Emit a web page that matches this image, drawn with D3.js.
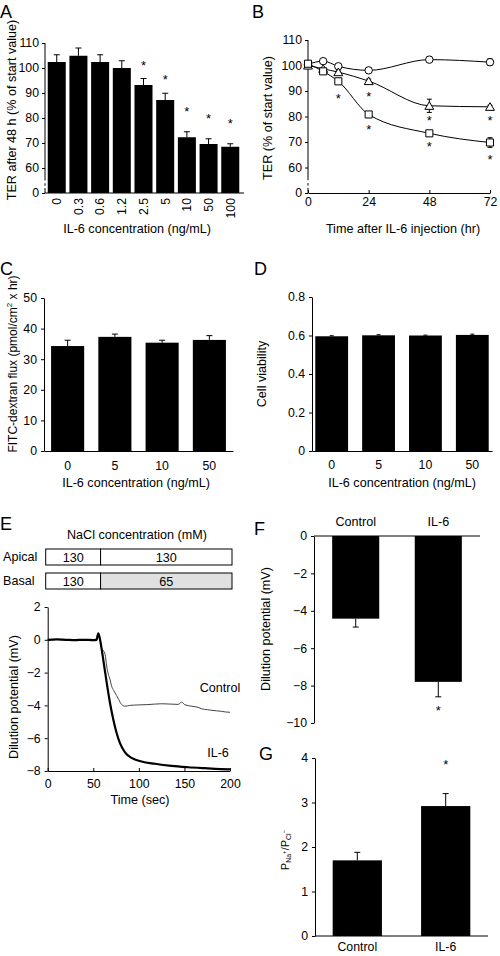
<!DOCTYPE html>
<html><head><meta charset="utf-8">
<script src="https://cdn.jsdelivr.net/npm/d3@7"></script>
<style>
body{margin:0;background:#fff}
svg{display:block}
text{font-family:"Liberation Sans",Arial,sans-serif;fill:#000}
</style>
</head><body>
<svg id="c" width="500" height="956"></svg>
<script>
// ---------- DATA ----------
// Panel A
const concA = ["0","0.3","0.6","1.2","2.5","5","10","50","100"];
const terA = [102.4, 104.9, 102.4, 100.0, 93.2, 87.2, 72.3, 69.6, 68.5];
const terAErr = [2.9, 3.1, 2.9, 2.9, 2.6, 2.7, 2.2, 2.1, 1.2];
const starAConc = ["2.5","5","10","50","100"];
const starAVal = [102.0, 96.3, 83.5, 81.0, 78.7];
const ticksA = [50, 60, 70, 80, 90, 100, 110];

// Panel B
const timeB = [0, 6, 12, 24, 48, 72];
const circB = [100.5, 101.7, 99.7, 98.1, 102.3, 101.3];
const circErr = [0, 0.5, 0.5, 0.6, 0.9, 1.3];
const triB = [100.0, 98.7, 97.4, 93.9, 84.2, 83.8];
const triErr = [0, 0.5, 0.5, 0.8, 2.6, 0.6];
const sqB = [100.7, 97.7, 93.8, 80.8, 73.4, 69.8];
const sqErr = [0, 0.5, 0.5, 0.8, 0.9, 1.9];
const starBTime = [12, 24, 24, 48, 48, 72, 72];
const starBVal = [88.2, 88.8, 76.0, 79.5, 69.2, 79.5, 64.2];
const ticksBx = [0, 24, 48, 72];

// Panel C
const concC = ["0","5","10","50"];
const fluxC = [34.3, 37.3, 35.4, 36.3];
const fluxErr = [1.9, 0.9, 0.8, 1.4];
const ticksC = [0, 10, 20, 30, 40, 50];

// Panel D
const viabD = [0.596, 0.601, 0.600, 0.603];
const viabErr = [0.003, 0.003, 0.002, 0.004];
const ticksD = [0, 0.2, 0.4, 0.6, 0.8];

// Panel E
const apicalConc = ["130", "130"];
const basalConc = ["130", "65"];
const switchTime = 58;
const ctrlT = [0,10,20,30,40,50,53,55.5,57.5,59,61,63,64.7,66.5,68.3,70,72.5,75.6,78,81,84.8,90,100,110,125,135,143,147,150.5,158,165,169,175,180,185,190.8,195,200];
const ctrlV = [0,0.02,-0.02,0,0.02,0,0.05,0.39,0.05,-0.5,-0.65,-0.9,-1.6,-2.1,-2.4,-2.8,-3.1,-3.4,-3.65,-3.94,-4.05,-4.0,-3.97,-3.95,-3.9,-3.92,-3.94,-3.8,-3.96,-4.05,-4.12,-4.21,-4.26,-4.3,-4.33,-4.36,-4.4,-4.42];
const il6T = [0,10,20,30,40,50,53.7,55.5,57.3,59.2,62,64.7,68.3,72,75.6,79.3,84.8,92,103,117.6,135.9,154,172.5,190,200];
const il6V = [0,0.02,0,-0.02,0,-0.02,0,0.39,0.05,-0.57,-1.6,-2.6,-3.84,-4.87,-5.68,-6.3,-6.87,-7.2,-7.42,-7.56,-7.69,-7.77,-7.83,-7.88,-7.9];
const ticksEx = [0, 50, 100, 150, 200];
const ticksEy = [-8, -6, -4, -2, 0, 2];

// Panel F
const groupsF = ["Control", "IL-6"];
const dilF = [-4.42, -7.8];
const dilErr = [0.45, 0.8];
const starFVal = -9.2;
const ticksF = [-10, -8, -6, -4, -2, 0];

// Panel G
const groupsG = ["Control", "IL-6"];
const permG = [1.70, 2.92];
const permErr = [0.18, 0.28];
const starGVal = 3.91;
const ticksG = [0, 1, 2, 3, 4];

// ---------- DRAW ----------
const svg = d3.select("#c");
const FONT = '"Liberation Sans",Arial,sans-serif';
const TICK_FS = 12.3;
const TITLE_FS = 12.6;

function styleAxis(g) {
  g.attr("font-size", TICK_FS).attr("font-family", FONT);
  g.selectAll("path,line").attr("stroke", "#000");
}
function txt(x, y, s, opts = {}) {
  return svg.append("text").attr("x", x).attr("y", y).attr("font-size", opts.size || TITLE_FS)
    .attr("text-anchor", opts.anchor || "middle").text(s);
}
function vlabel(cx, cy, s) {
  return svg.append("text").attr("transform", `translate(${cx},${cy}) rotate(-90)`)
    .attr("text-anchor", "middle").attr("dy", "0.35em").attr("font-size", TITLE_FS).text(s);
}
function star(x, y) {
  svg.append("text").attr("x", x).attr("y", y).attr("dy", 7).attr("text-anchor", "middle")
    .attr("font-size", 13).text("*");
}
function errBar(x, y1, y2, cap = 6) {
  svg.append("line").attr("x1", x).attr("x2", x).attr("y1", y1).attr("y2", y2).attr("stroke", "#000").attr("stroke-width", 1);
  svg.append("line").attr("x1", x - cap / 2).attr("x2", x + cap / 2).attr("y1", y2).attr("y2", y2).attr("stroke", "#000").attr("stroke-width", 1);
}
function brokenYAxis(x, scale, top, bottom) {
  const segs = [[top, 55], [53.9, 52.9], [52.0, bottom]];
  segs.forEach(s => svg.append("line").attr("x1", x).attr("x2", x)
    .attr("y1", scale(s[0])).attr("y2", scale(s[1])).attr("stroke", "#000"));
}

// Panel letters
txt(0, 18, "A", {size: 18, anchor: "start"});
txt(252, 18, "B", {size: 18, anchor: "start"});
txt(0, 275, "C", {size: 18, anchor: "start"});
txt(254, 275, "D", {size: 18, anchor: "start"});
txt(0, 530, "E", {size: 18, anchor: "start"});
txt(254, 535, "F", {size: 18, anchor: "start"});
txt(259, 760, "G", {size: 18, anchor: "start"});

// ----- Panel A -----
const xA = d3.scaleBand().domain(concA).range([46, 241]).paddingInner(0.17).paddingOuter(0.08);
const yA = d3.scaleLinear().domain([50, 110]).range([193, 43]);
svg.append("g").selectAll("rect").data(concA).join("rect")
  .attr("x", d => xA(d)).attr("width", xA.bandwidth())
  .attr("y", (d, i) => yA(terA[i])).attr("height", (d, i) => yA(50) - yA(terA[i])).attr("fill", "#000");
concA.forEach((c, i) => errBar(xA(c) + xA.bandwidth() / 2, yA(terA[i]), yA(terA[i] + terAErr[i])));
starAConc.forEach((c, i) => star(xA(c) + xA.bandwidth() / 2, yA(starAVal[i])));
{
  const g = svg.append("g").attr("transform", `translate(45,0)`)
    .call(d3.axisLeft(yA).tickValues(ticksA).tickSize(3).tickPadding(3).tickSizeOuter(0).tickFormat(d => d === 50 ? "0" : d));
  styleAxis(g); g.select(".domain").remove();
  brokenYAxis(45, yA, 110, 50);
  svg.append("line").attr("x1", 45).attr("x2", 244).attr("y1", yA(50)).attr("y2", yA(50)).attr("stroke", "#000");
  concA.forEach(c => svg.append("text")
    .attr("transform", `translate(${xA(c) + xA.bandwidth() / 2},198) rotate(-90)`)
    .attr("text-anchor", "end").attr("dy", "0.35em").attr("font-size", TICK_FS).text(c));
}
vlabel(12, 110, "TER after 48 h (% of start value)");
txt(137, 233, "IL-6 concentration (ng/mL)");

// ----- Panel B -----
const xB = d3.scaleLinear().domain([0, 72]).range([308, 490]);
const yB = d3.scaleLinear().domain([50, 110]).range([193, 40]);
{
  const g = svg.append("g").attr("transform", `translate(308,0)`)
    .call(d3.axisLeft(yB).tickValues(ticksA).tickSize(3).tickPadding(3).tickSizeOuter(0).tickFormat(d => d === 50 ? "0" : d));
  styleAxis(g); g.select(".domain").remove();
  brokenYAxis(308, yB, 110, 50);
  const gx = svg.append("g").attr("transform", `translate(0,${yB(50)})`)
    .call(d3.axisBottom(xB).tickValues(ticksBx).tickSizeInner(-3).tickSizeOuter(0).tickPadding(4));
  styleAxis(gx);
}
const lineB = d3.line().x((d, i) => xB(timeB[i])).y(d => yB(d)).curve(d3.curveMonotoneX);
const seriesB = [
  {v: circB, e: circErr, sym: d3.symbolCircle, size: 44},
  {v: triB, e: triErr, sym: d3.symbolTriangle, size: 34},
  {v: sqB, e: sqErr, sym: d3.symbolSquare, size: 50}
];
seriesB.forEach(s => {
  svg.append("path").attr("d", lineB(s.v)).attr("fill", "none").attr("stroke", "#000").attr("stroke-width", 1);
});
seriesB.forEach(s => {
  s.v.forEach((v, i) => {
    if (s.e[i] > 0) {
      errBar(xB(timeB[i]), yB(v), yB(v + s.e[i]), 5);
      errBar(xB(timeB[i]), yB(v), yB(v - s.e[i]), 5);
    }
  });
  svg.append("g").selectAll("path").data(s.v).join("path")
    .attr("transform", (d, i) => `translate(${xB(timeB[i])},${yB(d) + (s.sym === d3.symbolTriangle ? 1 : 0)})`)
    .attr("d", d3.symbol().type(s.sym).size(s.size))
    .attr("fill", "#fff").attr("stroke", "#000").attr("stroke-width", 1);
});
starBTime.forEach((t, i) => star(xB(t), yB(starBVal[i])));
vlabel(268, 118, "TER (% of start value)");
txt(403, 233, "Time after IL-6 injection (hr)");

// ----- Panel C -----
const xC = d3.scaleBand().domain(concC).range([44, 233]).paddingInner(0.3).paddingOuter(0.15);
const yC = d3.scaleLinear().domain([0, 50]).range([451, 298]);
svg.append("g").selectAll("rect").data(concC).join("rect")
  .attr("x", d => xC(d)).attr("width", xC.bandwidth())
  .attr("y", (d, i) => yC(fluxC[i])).attr("height", (d, i) => yC(0) - yC(fluxC[i])).attr("fill", "#000");
concC.forEach((c, i) => errBar(xC(c) + xC.bandwidth() / 2, yC(fluxC[i]), yC(fluxC[i] + fluxErr[i])));
{
  const g = svg.append("g").attr("transform", `translate(44,0)`)
    .call(d3.axisLeft(yC).tickValues(ticksC).tickSize(3).tickPadding(4).tickSizeOuter(0).tickFormat(d3.format("d")));
  styleAxis(g);
  const gx = svg.append("g").attr("transform", `translate(0,${yC(0)})`)
    .call(d3.axisBottom(xC).tickSize(0).tickPadding(10));
  styleAxis(gx);
}
{
  const t = svg.append("text").attr("transform", `translate(13,364) rotate(-90)`)
    .attr("text-anchor", "middle").attr("dy", "0.35em").attr("font-size", 12);
  t.append("tspan").text("FITC-dextran flux (pmol/cm");
  t.append("tspan").attr("dy", -5).attr("font-size", 8).text("2");
  t.append("tspan").attr("dy", 5).text(" x hr)");
}
txt(136, 487, "IL-6 concentration (ng/mL)");

// ----- Panel D -----
const xD = d3.scaleBand().domain(concC).range([312, 492]).paddingInner(0.3).paddingOuter(0.07);
const yD = d3.scaleLinear().domain([0, 0.8]).range([451, 297]);
svg.append("g").selectAll("rect").data(concC).join("rect")
  .attr("x", d => xD(d)).attr("width", xD.bandwidth())
  .attr("y", (d, i) => yD(viabD[i])).attr("height", (d, i) => yD(0) - yD(viabD[i])).attr("fill", "#000");
concC.forEach((c, i) => errBar(xD(c) + xD.bandwidth() / 2, yD(viabD[i]), yD(viabD[i] + viabErr[i]), 4));
{
  const g = svg.append("g").attr("transform", `translate(312,0)`)
    .call(d3.axisLeft(yD).tickValues(ticksD).tickSize(3).tickPadding(4).tickSizeOuter(0)
      .tickFormat(d => d === 0 ? "0" : d3.format(".1f")(d)));
  styleAxis(g);
  const gx = svg.append("g").attr("transform", `translate(0,${yD(0)})`)
    .call(d3.axisBottom(xD).tickSize(0).tickPadding(9));
  styleAxis(gx);
}
vlabel(262, 374, "Cell viability");
txt(402, 487, "IL-6 concentration (ng/mL)");

// ----- Panel E -----
const xE = d3.scaleLinear().domain([0, 200]).range([47.7, 230]);
const yE = d3.scaleLinear().domain([-8, 2]).range([771, 607]);
txt(137, 539, "NaCl concentration (mM)");
{
  const rows = [{name: "Apical", conc: apicalConc, y0: 549, fill2: "#fff"},
                {name: "Basal", conc: basalConc, y0: 573, fill2: "#e0e0e0"}];
  const bx0 = xE(0) - 2, bxm = xE(switchTime), bx1 = xE(200) + 2, bh = 16;
  rows.forEach(r => {
    svg.append("rect").attr("x", bx0).attr("y", r.y0).attr("width", bxm - bx0).attr("height", bh)
      .attr("fill", "#fff").attr("stroke", "#000");
    svg.append("rect").attr("x", bxm).attr("y", r.y0).attr("width", bx1 - bxm).attr("height", bh)
      .attr("fill", r.fill2).attr("stroke", "#000");
    txt((bx0 + bxm) / 2, r.y0 + bh / 2 + 4.5, r.conc[0]);
    txt((bxm + bx1) / 2, r.y0 + bh / 2 + 4.5, r.conc[1]);
    txt(3, r.y0 + bh / 2 + 4, r.name, {anchor: "start"});
  });
}
{
  const g = svg.append("g").attr("transform", `translate(${xE(0)},0)`)
    .call(d3.axisLeft(yE).tickValues(ticksEy).tickSize(3).tickPadding(4).tickSizeOuter(0).tickFormat(d3.format("d")));
  styleAxis(g);
  const gx = svg.append("g").attr("transform", `translate(0,${yE(-8)})`)
    .call(d3.axisBottom(xE).tickValues(ticksEx).tickSizeInner(-3).tickSizeOuter(0).tickPadding(8));
  styleAxis(gx);
}
const lineE = d3.line().x(d => xE(d[0])).y(d => yE(d[1])).curve(d3.curveMonotoneX);
svg.append("path").attr("d", lineE(ctrlT.map((t, i) => [t, ctrlV[i]])))
  .attr("fill", "none").attr("stroke", "#444").attr("stroke-width", 1);
svg.append("path").attr("d", lineE(il6T.map((t, i) => [t, il6V[i]])))
  .attr("fill", "none").attr("stroke", "#000").attr("stroke-width", 2.2);
txt(220, 692, "Control");
txt(218, 757, "IL-6");
vlabel(14, 697, "Dilution potential (mV)");
txt(140, 804, "Time (sec)");

// ----- Panel F -----
const xF = d3.scaleBand().domain(groupsF).range([314, 480]).paddingInner(0.43).paddingOuter(0.22);
const yF = d3.scaleLinear().domain([-10, 0]).range([723, 536]);
svg.append("g").selectAll("rect").data(groupsF).join("rect")
  .attr("x", d => xF(d)).attr("width", xF.bandwidth())
  .attr("y", yF(0)).attr("height", (d, i) => yF(dilF[i]) - yF(0)).attr("fill", "#000");
groupsF.forEach((c, i) => errBar(xF(c) + xF.bandwidth() / 2, yF(dilF[i]), yF(dilF[i] - dilErr[i])));
star(xF("IL-6") + xF.bandwidth() / 2, yF(starFVal));
{
  const g = svg.append("g").attr("transform", `translate(314,0)`)
    .call(d3.axisLeft(yF).tickValues(ticksF).tickSize(3).tickPadding(4).tickSizeOuter(0).tickFormat(d3.format("d")));
  styleAxis(g);
  svg.append("line").attr("x1", 314).attr("x2", 480).attr("y1", yF(0)).attr("y2", yF(0)).attr("stroke", "#000");
  groupsF.forEach(c => txt(xF(c) + xF.bandwidth() / 2, 526, c));
}
vlabel(266, 629, "Dilution potential (mV)");

// ----- Panel G -----
const xG = d3.scaleBand().domain(groupsG).range([315, 488]).paddingInner(0.443).paddingOuter(0.2);
const yG = d3.scaleLinear().domain([0, 4]).range([936, 758]);
svg.append("g").selectAll("rect").data(groupsG).join("rect")
  .attr("x", d => xG(d)).attr("width", xG.bandwidth())
  .attr("y", (d, i) => yG(permG[i])).attr("height", (d, i) => yG(0) - yG(permG[i])).attr("fill", "#000");
groupsG.forEach((c, i) => errBar(xG(c) + xG.bandwidth() / 2, yG(permG[i]), yG(permG[i] + permErr[i])));
star(xG("IL-6") + xG.bandwidth() / 2, yG(starGVal));
{
  const g = svg.append("g").attr("transform", `translate(315,0)`)
    .call(d3.axisLeft(yG).tickValues(ticksG).tickSize(3).tickPadding(4).tickSizeOuter(0).tickFormat(d3.format("d")));
  styleAxis(g);
  groupsG.forEach(c => txt(xG(c) + xG.bandwidth() / 2, 951, c, {size: TICK_FS}));
  svg.append("line").attr("x1", 315).attr("x2", 488).attr("y1", yG(0)).attr("y2", yG(0)).attr("stroke", "#000");
}
{
  const t = svg.append("text").attr("transform", `translate(285,850) rotate(-90)`)
    .attr("text-anchor", "middle").attr("dy", "0.35em").attr("font-size", 11);
  t.append("tspan").text("P");
  t.append("tspan").attr("dy", 2).attr("font-size", 7).text("Na");
  t.append("tspan").attr("dy", -5).attr("font-size", 6).text("+");
  t.append("tspan").attr("dy", 3).attr("font-size", 11).text("/P");
  t.append("tspan").attr("dy", 2).attr("font-size", 7).text("Cl");
  t.append("tspan").attr("dy", -5).attr("font-size", 6).text("−");
}
</script>
</body></html>
